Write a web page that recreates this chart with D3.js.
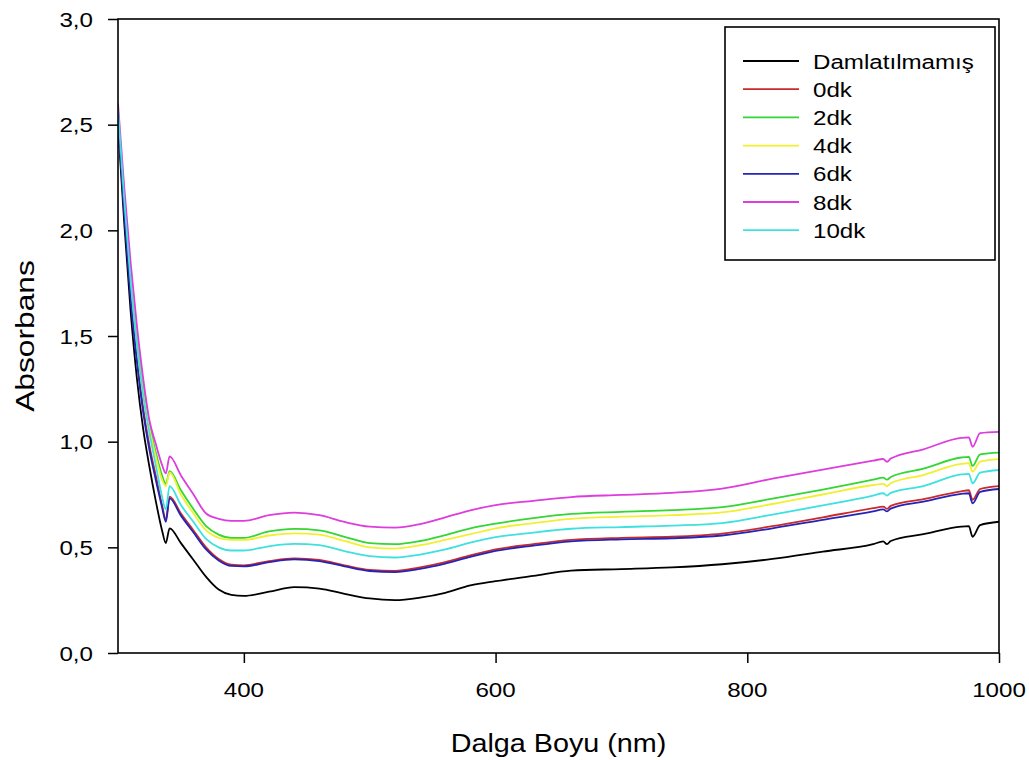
<!DOCTYPE html>
<html>
<head>
<meta charset="utf-8">
<script src="https://cdn.jsdelivr.net/npm/d3@7"></script>
<style>
  body { margin: 0; background: #ffffff; }
  text { font-family: Arial, "Liberation Sans", sans-serif; fill: #000; }
</style>
</head>
<body>
<svg id="chart" width="1029" height="760"></svg>
<script>
// Absorbance spectra (300–1000 nm)
const wavelengths = [300, 305, 310, 315, 320, 325, 330, 335, 338, 341, 350, 360, 370, 380, 390, 400,
  420, 440, 460, 480, 500, 520, 540, 560, 580, 600, 630, 660, 700, 740, 780, 820, 860, 900,
  908, 911, 914, 940, 970, 976, 979, 985, 1000];

const damlatilmamis = [2.50, 2.03, 1.62, 1.30, 1.06, 0.88, 0.72, 0.58, 0.52, 0.59, 0.52, 0.44, 0.36, 0.30, 0.275, 0.27,
  0.29, 0.312, 0.305, 0.28, 0.258, 0.25, 0.262, 0.285, 0.32, 0.34, 0.365, 0.39, 0.397, 0.405, 0.42, 0.445, 0.48, 0.515,
  0.528, 0.515, 0.53, 0.562, 0.598, 0.60, 0.55, 0.605, 0.621];

const dk0 = [2.55, 2.10, 1.70, 1.40, 1.16, 0.98, 0.84, 0.70, 0.63, 0.74, 0.66, 0.58, 0.50, 0.445, 0.418, 0.415,
  0.435, 0.448, 0.44, 0.415, 0.393, 0.388, 0.405, 0.43, 0.462, 0.49, 0.515, 0.535, 0.545, 0.55, 0.565, 0.60, 0.642, 0.685,
  0.693, 0.682, 0.696, 0.728, 0.765, 0.77, 0.725, 0.776, 0.79];

const dk2 = [2.55, 2.13, 1.77, 1.48, 1.25, 1.08, 0.95, 0.84, 0.80, 0.86, 0.77, 0.68, 0.60, 0.56, 0.545, 0.545,
  0.575, 0.587, 0.58, 0.55, 0.52, 0.515, 0.53, 0.558, 0.59, 0.612, 0.638, 0.658, 0.668, 0.676, 0.69, 0.73, 0.773, 0.82,
  0.83, 0.82, 0.833, 0.872, 0.925, 0.928, 0.885, 0.94, 0.948];

const dk4 = [2.55, 2.12, 1.75, 1.46, 1.23, 1.06, 0.93, 0.82, 0.79, 0.855, 0.75, 0.66, 0.58, 0.545, 0.535, 0.535,
  0.556, 0.566, 0.56, 0.53, 0.50, 0.494, 0.51, 0.535, 0.562, 0.59, 0.615, 0.635, 0.645, 0.652, 0.665, 0.705, 0.75, 0.795,
  0.80, 0.79, 0.803, 0.842, 0.895, 0.898, 0.858, 0.905, 0.917];

const dk6 = [2.53, 2.08, 1.68, 1.38, 1.14, 0.96, 0.82, 0.69, 0.621, 0.732, 0.65, 0.57, 0.49, 0.438, 0.412, 0.41,
  0.43, 0.443, 0.435, 0.41, 0.388, 0.383, 0.398, 0.423, 0.455, 0.483, 0.508, 0.528, 0.538, 0.543, 0.556, 0.59, 0.63, 0.67,
  0.68, 0.67, 0.683, 0.716, 0.753, 0.756, 0.708, 0.762, 0.776];

const dk8 = [2.60, 2.20, 1.85, 1.55, 1.30, 1.10, 0.99, 0.89, 0.85, 0.93, 0.84, 0.75, 0.66, 0.635, 0.625, 0.625,
  0.652, 0.664, 0.652, 0.62, 0.598, 0.593, 0.61, 0.642, 0.675, 0.70, 0.72, 0.738, 0.748, 0.758, 0.778, 0.825, 0.868, 0.91,
  0.918, 0.905, 0.92, 0.964, 1.018, 1.02, 0.976, 1.04, 1.046];

const dk10 = [2.57, 2.14, 1.76, 1.46, 1.22, 1.04, 0.89, 0.74, 0.68, 0.79, 0.70, 0.62, 0.54, 0.50, 0.485, 0.485,
  0.505, 0.516, 0.51, 0.482, 0.458, 0.452, 0.466, 0.49, 0.522, 0.548, 0.57, 0.588, 0.596, 0.603, 0.615, 0.655, 0.698, 0.745,
  0.756, 0.745, 0.758, 0.79, 0.845, 0.848, 0.803, 0.853, 0.866];

const seriesNames = ["Damlatılmamış", "0dk", "2dk", "4dk", "6dk", "8dk", "10dk"];
const seriesValues = [damlatilmamis, dk0, dk2, dk4, dk6, dk8, dk10];
const seriesColors = ["#000000", "#cc2a2a", "#33d633", "#f0f030", "#2424b8", "#dd3ddd", "#3ee0e0"];

const xTicks = [400, 600, 800, 1000];
const yTicks = [0, 0.5, 1.0, 1.5, 2.0, 2.5, 3.0];

const xTitle = "Dalga Boyu (nm)";
const yTitle = "Absorbans";

// ---- layout
const svg = d3.select("#chart");
const plot = { left: 118, right: 999, top: 19, bottom: 653 };
const textStretch = 1.15;

const x = d3.scaleLinear().domain([300, 1000]).range([plot.left, plot.right]);
const y = d3.scaleLinear().domain([0, 3]).range([plot.bottom, plot.top]);

const commaFmt = v => d3.format(".1f")(v).replace(".", ",");

// horizontally widened text, placed at (px, py)
function stretched(sel, px, py, anchor) {
  return sel.attr("text-anchor", anchor)
    .attr("transform", `translate(${px},${py}) scale(${textStretch},1)`);
}

// clip for the spectra
svg.append("defs").append("clipPath").attr("id", "plotClip")
  .append("rect")
  .attr("x", plot.left).attr("y", plot.top)
  .attr("width", plot.right - plot.left).attr("height", plot.bottom - plot.top);

// spectra
const line = d3.line()
  .x((d, i) => x(wavelengths[i]))
  .y(d => y(d))
  .curve(d3.curveMonotoneX);

const drawOrder = [0, 1, 2, 3, 4, 5, 6];
svg.append("g").attr("clip-path", "url(#plotClip)")
  .selectAll("path")
  .data(drawOrder)
  .join("path")
  .attr("d", i => line(seriesValues[i]))
  .attr("fill", "none")
  .attr("stroke", i => seriesColors[i])
  .attr("stroke-width", 1.8)
  .attr("stroke-linejoin", "round");

// axes
const xAxis = d3.axisBottom(x).tickValues(xTicks).tickSize(10).tickFormat("");
const yAxis = d3.axisLeft(y).tickValues(yTicks).tickSize(10).tickFormat("");

const gx = svg.append("g").attr("transform", `translate(0,${plot.bottom})`).call(xAxis);
const gy = svg.append("g").attr("transform", `translate(${plot.left},0)`).call(yAxis);
[gx, gy].forEach(g => {
  g.select(".domain").remove();
  g.selectAll(".tick line").attr("stroke", "#000").attr("stroke-width", 1.5);
});

// tick labels
svg.append("g").selectAll("text").data(xTicks).join("text")
  .each(function (d) { stretched(d3.select(this), x(d), 697, "middle"); })
  .attr("font-size", 21)
  .text(d => d);

svg.append("g").selectAll("text").data(yTicks).join("text")
  .each(function (d) { stretched(d3.select(this), 93, y(d) + 7.5, "end"); })
  .attr("font-size", 21)
  .text(d => commaFmt(d));

// frame
svg.append("rect")
  .attr("x", plot.left).attr("y", plot.top)
  .attr("width", plot.right - plot.left).attr("height", plot.bottom - plot.top)
  .attr("fill", "none").attr("stroke", "#000").attr("stroke-width", 1.6);

// axis titles
stretched(svg.append("text"), (plot.left + plot.right) / 2, 752, "middle")
  .attr("font-size", 25)
  .text(xTitle);

svg.append("text")
  .attr("text-anchor", "middle")
  .attr("transform", `translate(34,${(plot.top + plot.bottom) / 2}) rotate(-90) scale(1.22,1)`)
  .attr("font-size", 26)
  .text(yTitle);

// legend
const legend = { left: 725, top: 27, width: 270, height: 233, rowStart: 61, rowGap: 28.2 };
svg.append("rect")
  .attr("x", legend.left).attr("y", legend.top)
  .attr("width", legend.width).attr("height", legend.height)
  .attr("fill", "#fff").attr("stroke", "#000").attr("stroke-width", 1.6);

const rows = svg.append("g").selectAll("g").data(seriesNames).join("g")
  .attr("transform", (d, i) => `translate(0,${legend.rowStart + i * legend.rowGap})`);
rows.append("line")
  .attr("x1", 743).attr("x2", 799).attr("y1", 0).attr("y2", 0)
  .attr("stroke", (d, i) => seriesColors[i]).attr("stroke-width", 1.8);
rows.append("text")
  .each(function () { stretched(d3.select(this), 813, 7.5, "start"); })
  .attr("font-size", 21)
  .text(d => d);
</script>
</body>
</html>
